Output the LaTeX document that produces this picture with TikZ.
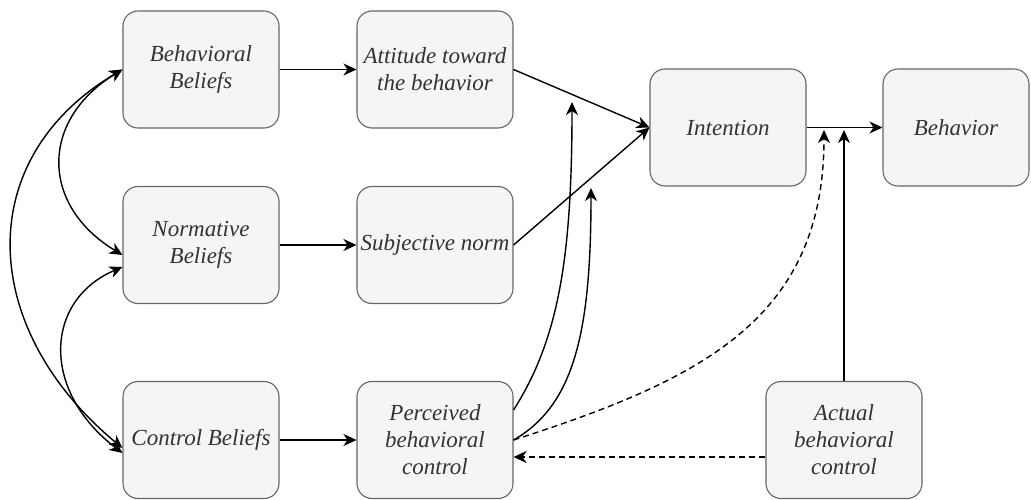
\documentclass[tikz,border=0pt]{standalone}
\usepackage{fontspec}
\setmainfont{Liberation Serif}[ItalicFont={Liberation Serif Italic}]
\usetikzlibrary{arrows.meta}
\definecolor{boxfill}{HTML}{F5F5F5}
\definecolor{boxline}{HTML}{666666}
\definecolor{txt}{HTML}{333333}
\begin{document}
\begin{tikzpicture}[x=1pt,y=-1pt,
  box/.style={draw=boxline, line width=1.1pt, fill=boxfill, rounded corners=15pt,
    minimum width=156pt, minimum height=117pt, inner sep=0pt, align=center,
    text=txt, font=\rmfamily\itshape\fontsize{23}{27}\selectfont},
  arr/.style={line width=1.4pt, -{Stealth[length=13pt,width=12pt,inset=4pt]}},
  darr/.style={line width=1.4pt, {Stealth[length=13pt,width=12pt,inset=4pt]}-{Stealth[length=13pt,width=12pt,inset=4pt]}},
  dsh/.style={dash pattern=on 6pt off 4pt}
]
\useasboundingbox (0,0) rectangle (1031,500);
\node[box] (bb) at (201,69.5) {Behavioral\\Beliefs};
\node[box] (att) at (435,69.5) {Attitude toward\\the behavior};
\node[box] (int) at (728,127.5) {Intention};
\node[box, minimum width=146pt] (beh) at (956,127.5) {Behavior};
\node[box] (nb) at (201,245) {Normative\\Beliefs};
\node[box] (sn) at (435,245) {Subjective norm};
\node[box] (cb) at (201,440) {Control Beliefs};
\node[box] (pbc) at (435,440) {Perceived\\behavioral\\control};
\node[box] (abc) at (844,440) {Actual\\behavioral\\control};

\coordinate (p1) at (572,102);
\coordinate (p2) at (591,188);
\coordinate (j1) at (844,130);
\coordinate (j2) at (824,130);

\draw[arr] (bb) -- (att);
\draw[arr] (nb) -- (sn);
\draw[arr] (cb) -- (pbc);
\draw[arr] (att.east) -- (int.west);
\draw[arr] (sn.east) -- (int.west);
\draw[arr] (int) -- (beh);
\draw[arr] (abc.north) -- (j1);
\draw[arr] ([yshift=30pt]pbc.east) .. controls (558,340) and (572,260) .. (p1);
\draw[arr] (pbc.east) .. controls (575,405) and (591,330) .. (p2);
\draw[arr, dsh] (pbc.east) .. controls (700,380) and (824,320) .. (j2);
\draw[arr, dsh] ([yshift=-17pt]abc.west) -- ([yshift=-17pt]pbc.east);

\draw[darr] (bb.west) .. controls (40,120) and (40,205) .. ([yshift=-10pt]nb.west);
\draw[darr] (bb.west) .. controls (-30,160) and (-20,330) .. ([yshift=-8pt]cb.west);
\draw[darr] ([yshift=-22pt]nb.west) .. controls (45,300) and (40,390) .. ([yshift=-13pt]cb.west);
\end{tikzpicture}
\end{document}
